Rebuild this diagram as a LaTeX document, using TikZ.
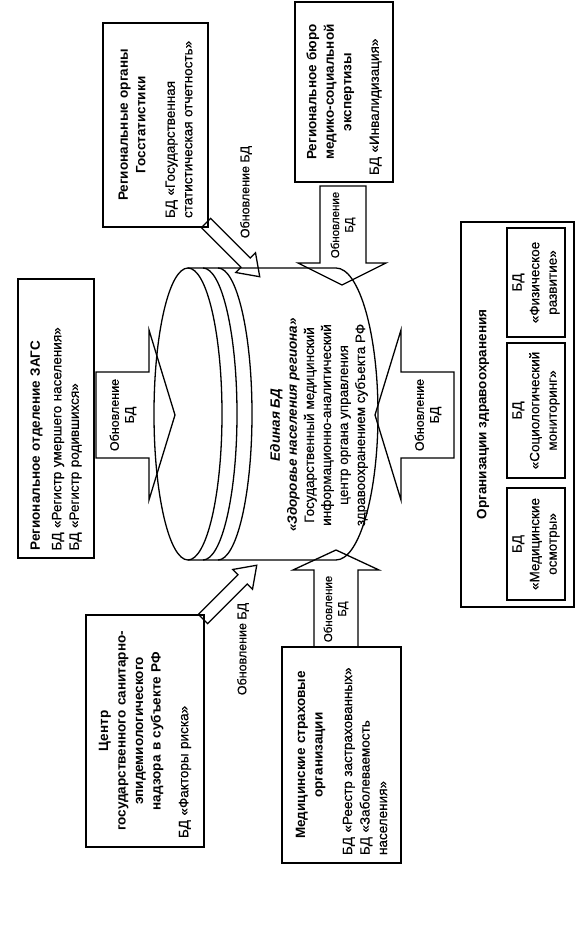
\documentclass[tikz,border=0pt]{standalone}
\usepackage{fontspec}
\setmainfont{Liberation Sans}[UprightFeatures={FakeBold=0.4}]
\usepackage{xcolor}
\usepackage{tikz}

\tikzset{
    box/.style={draw, line width=1.3pt, inner sep=0pt, font=\fontsize{13.5}{17.5}\selectfont},
    dbtxt/.style={align=center, font=\fontsize{13.5}{17}\selectfont},
    upd/.style={align=center, font=\fontsize{12.5}{15}\selectfont},
    updsmall/.style={align=center, font=\fontsize{11.5}{14}\selectfont},
    barrow/.style={draw, line width=1.3pt, line join=miter},
}

\begin{document}
\begin{tikzpicture}[x=1pt, y=1pt, rotate=90, transform shape]
    \useasboundingbox (0,0) rectangle (952,576);

    % sources
    \node[box, minimum width=279pt, minimum height=76pt, text width=264pt, align=left] (zags) at (533.5,520)
        {\textbf{Региональное отделение ЗАГС}\\[4pt]БД «Регистр умершего населения»\\БД «Регистр родившихся»};
    \node[box, minimum width=204pt, minimum height=105pt, text width=186pt, align=left] (gosstat) at (827,420.5)
        {{\centering\bfseries Региональные органы\\Госстатистики\par}\vspace{12pt}БД «Государственная\\статистическая отчетность»};
    \node[box, minimum width=180pt, minimum height=98pt, text width=166pt, align=left] (mse) at (860,232)
        {{\centering\bfseries Региональное бюро\\медико-социальной\\экспертизы\par}\vspace{10pt}БД «Инвалидизация»};
    \node[box, minimum width=232pt, minimum height=118pt, text width=214pt, align=left] (sanep) at (221,431)
        {{\centering\bfseries Центр\\государственного санитарно-\\эпидемиологического\\надзора в субъекте РФ\par}\vspace{10pt}БД «Факторы риска»};
    \node[box, minimum width=216pt, minimum height=119pt, text width=200pt, align=left] (smo) at (197,234.5)
        {{\centering\bfseries Медицинские страховые\\организации\par}\vspace{12pt}БД «Реестр застрахованных»\\БД «Заболеваемость\\населения»};

    \node[box, minimum width=385pt, minimum height=113pt] (org) at (537.5,58.5) {};
    \node[dbtxt, font=\fontsize{13.5}{17}\selectfont\bfseries] (orgtitle) at (537.5,93) {Организации здравоохранения};
    \node[box, minimum width=112pt, minimum height=58pt, align=center] (medosm) at (408,40) {БД\\«Медицинские\\осмотры»};
    \node[box, minimum width=135pt, minimum height=58pt, align=center] (socmon) at (541.5,40) {БД\\«Социологический\\мониторинг»};
    \node[box, minimum width=109pt, minimum height=58pt, align=center] (fizraz) at (669.5,40) {БД\\«Физическое\\развитие»};

    % database
    \draw[line width=1.3pt] (392,388) -- (392,240) arc[start angle=180, end angle=360, x radius=146, y radius=42] -- (684,388);
    \draw[line width=1.3pt] (538,388) ellipse [x radius=146, y radius=34];
    \draw[line width=1.3pt] (392,373) arc[start angle=180, end angle=360, x radius=146, y radius=34];
    \draw[line width=1.3pt] (392,358) arc[start angle=180, end angle=360, x radius=146, y radius=34];
    \node[dbtxt] (db) at (527,257)
        {{\bfseries\itshape Единая БД}\\{\bfseries\itshape «Здоровье населения региона»}\\Государственный медицинский\\информационно-аналитический\\центр органа управления\\здравоохранением субъекта РФ};

    % updates
    \draw[barrow] (494,480) -- (494,427) -- (452,427) -- (537,401) -- (622,427) -- (580,427) -- (580,480) -- cycle;
    \node[upd] (updzags) at (537,453) {Обновление\\БД};
    \draw[barrow] (494,122) -- (494,175) -- (452,175) -- (537,201) -- (622,175) -- (580,175) -- (580,122) -- cycle;
    \node[upd] (updorg) at (537,148) {Обновление\\БД};
    \draw[barrow] (766,210) -- (689,210) -- (689,190) -- (667,234) -- (689,278) -- (689,256) -- (766,256) -- cycle;
    \node[updsmall] (updmse) at (727,233) {Обновление\\БД};
    \draw[barrow] (305,218) -- (382,218) -- (382,197) -- (402,240) -- (382,283) -- (382,262) -- (305,262) -- cycle;
    \node[updsmall] (updsmo) at (343,240) {Обновление\\БД};

    \begin{scope}[shift={(729,370)}, rotate=-135]
        \draw[barrow] (0,-6.5) -- (56,-6.5) -- (56,-14) -- (76,0) -- (56,14) -- (56,6.5) -- (0,6.5) -- cycle;
    \end{scope}
    \node[upd] (updgs) at (760,330) {Обновление БД};
    \begin{scope}[shift={(333,373)}, rotate=-45]
        \draw[barrow] (0,-6.5) -- (56,-6.5) -- (56,-14) -- (76,0) -- (56,14) -- (56,6.5) -- (0,6.5) -- cycle;
    \end{scope}
    \node[upd] (updsan) at (303,333) {Обновление БД};
\end{tikzpicture}
\end{document}
